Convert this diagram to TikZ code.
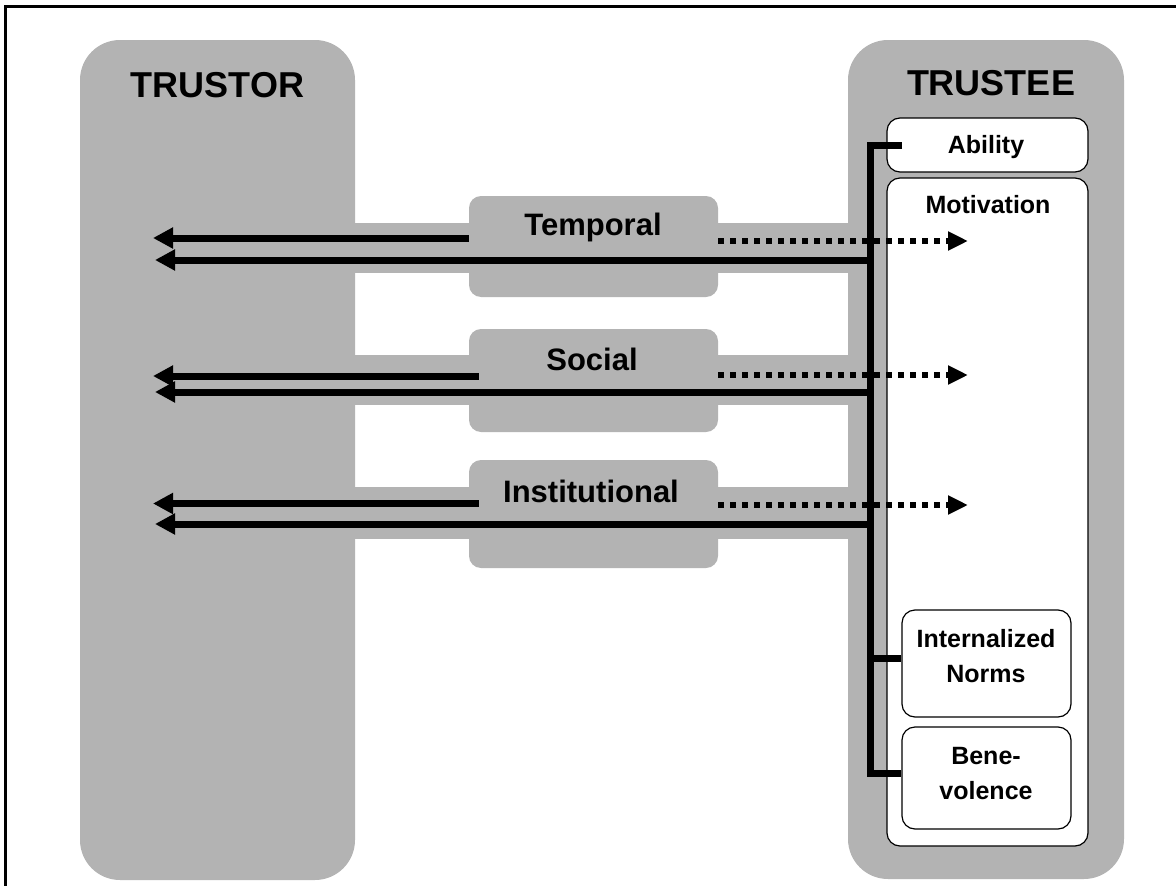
\documentclass[tikz,border=0pt]{standalone}
\usepackage{fontspec}
\setmainfont{Liberation Sans}
\usetikzlibrary{arrows.meta}
\definecolor{panel}{HTML}{B3B3B3}
\begin{document}
\begin{tikzpicture}[x=1pt,y=-1pt,
  panelbox/.style={fill=panel, rounded corners=40pt, inner sep=0pt},
  channelbox/.style={fill=panel, rounded corners=12pt, inner sep=0pt, minimum width=249pt},
  factorbox/.style={fill=white, draw=black, line width=1.2pt, rounded corners=13pt, inner sep=0pt},
  head/.style={font=\fontsize{36}{40}\selectfont\bfseries, inner sep=0pt, anchor=base},
  chan/.style={font=\fontsize{31}{35}\selectfont\bfseries, inner sep=0pt, anchor=base},
  fact/.style={font=\fontsize{25}{35}\selectfont\bfseries, inner sep=0pt, align=center},
  link/.style={line width=7pt, line join=miter},
  flow/.style={line width=7pt, -{Triangle[length=20pt,width=20pt]}},
  dflow/.style={line width=6pt, dash pattern=on 6pt off 6pt, -{Triangle[length=20pt,width=18pt]}},
]
\useasboundingbox (0,0) rectangle (1176,886);

% outer frame (top and left edges)
\draw[line width=3pt] (5.5,886) -- (5.5,6.5) -- (1176,6.5);

% the two parties
\node[panelbox, minimum width=275pt, minimum height=840pt] (trustor) at (217.5,460) {};
\node[panelbox, minimum width=276pt, minimum height=839pt] (trustee) at (986,459.5) {};

% channel bands joining the parties
\fill[panel] (trustor.east |- 0,223) rectangle (trustee.west |- 0,273);
\fill[panel] (trustor.east |- 0,355) rectangle (trustee.west |- 0,405);
\fill[panel] (trustor.east |- 0,487) rectangle (trustee.west |- 0,539);

% channel boxes
\node[channelbox, minimum height=101pt] (temporal) at (593.5,246.5) {};
\node[channelbox, minimum height=103pt] (social) at (593.5,380.5) {};
\node[channelbox, minimum height=108pt] (institutional) at (593.5,514) {};

% trustee attributes
\node[factorbox, minimum width=201pt, minimum height=54pt] (ability) at (987.5,145) {};
\node[factorbox, minimum width=201pt, minimum height=668pt] (motivation) at (987.5,512) {};
\node[factorbox, minimum width=169pt, minimum height=107pt] (norms) at (986.5,663.5) {};
\node[factorbox, minimum width=169pt, minimum height=102pt] (bene) at (986.5,778) {};

% labels
\node[head] (trustorlbl) at (217.5,97) {TRUSTOR};
\node[head] (trusteelbl) at (991,95) {TRUSTEE};
\node[chan] (temporallbl) at (593,235) {Temporal};
\node[chan] (sociallbl) at (592,370) {Social};
\node[chan] (institutionallbl) at (591,502) {Institutional};
\node[fact, anchor=base] (abilitylbl) at (986,153) {Ability};
\node[fact, anchor=base] (motivationlbl) at (988,213) {Motivation};
\node[fact] (normslbl) at (986,656.5) {Internalized\\Norms};
\node[fact] (benelbl) at (986,773.5) {Bene-\\volence};

% spine collecting the attributes
\coordinate (spinetop) at (870,145);
\coordinate (spinebot) at (870,773);
\coordinate (abilitytap) at (902,145);
\coordinate (normstap) at (870,658);
\draw[link] (abilitytap) -- (spinetop) -- (spinebot) -- (bene.west |- spinebot);
\draw[link] (normstap) -- (norms.west |- normstap);

% arrow tips at the trustor
\coordinate (tupper) at (153,238);
\coordinate (tlower) at (155,260);
\coordinate (supper) at (153,376);
\coordinate (slower) at (155,392);
\coordinate (iupper) at (153,503.5);
\coordinate (ilower) at (155,524);

% arrow tips into the motivation box
\coordinate (tdash) at (968,241);
\coordinate (sdash) at (968,375);
\coordinate (idash) at (968,505);

% temporal channel
\draw[flow] (temporal.west |- tupper) -- (tupper);
\draw[flow] (spinetop |- tlower) -- (tlower);
\draw[dflow] (temporal.east |- tdash) -- (tdash);

% social channel
\draw[flow] ([xshift=10pt]social.west |- supper) -- (supper);
\draw[flow] (spinetop |- slower) -- (slower);
\draw[dflow] (social.east |- sdash) -- (sdash);

% institutional channel
\draw[flow] ([xshift=10pt]institutional.west |- iupper) -- (iupper);
\draw[flow] (spinetop |- ilower) -- (ilower);
\draw[dflow] (institutional.east |- idash) -- (idash);
\end{tikzpicture}
\end{document}
